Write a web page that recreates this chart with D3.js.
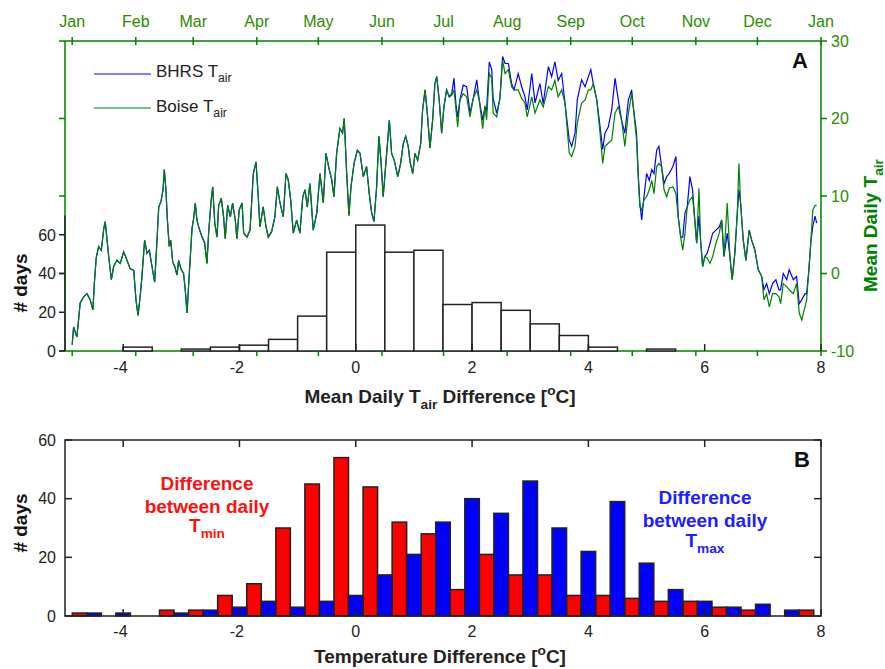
<!DOCTYPE html>
<html><head><meta charset="utf-8">
<script src="https://cdn.jsdelivr.net/npm/d3@7"></script>
<style>body{margin:0;background:#fff}svg{display:block}text{font-family:"Liberation Sans",Arial,sans-serif}</style>
</head><body><svg id="c" width="885" height="669"></svg>
<script>
// ---------- DATA ----------
const monthNames = ["Jan","Feb","Mar","Apr","May","Jun","Jul","Aug","Sep","Oct","Nov","Dec","Jan"];
const monthDay = [0,31,59,90,120,151,181,212,243,273,304,334,365];

// Panel A histogram (0.5 degC bins, left edges)
const histBinLeft = [-5,-4.5,-4,-3.5,-3,-2.5,-2,-1.5,-1,-0.5,0,0.5,1,1.5,2,2.5,3,3.5,4,4.5,5,5.5,6,6.5,7,7.5];
const histDays = [0,0,2,0,1,2,3,6,18,51,65,51,52,24,25,21,14,8,2,0,1,0,0,0,0,0];

// Panel B histogram (pair left edges; Tmin left half, Tmax right half)
const diffBinLeft = [-4.875,-4.375,-3.875,-3.375,-2.875,-2.375,-1.875,-1.375,-0.875,-0.375,0.125,0.625,1.125,1.625,2.125,2.625,3.125,3.625,4.125,4.625,5.125,5.625,6.125,6.625,7.125,7.625];
const tminDays = [1,0,0,2,2,7,11,30,45,54,44,32,28,9,21,14,14,7,7,6,5,5,3,2,0,2];
const tmaxDays = [1,1,0,1,2,3,5,3,5,7,14,21,32,40,35,46,30,22,39,18,9,5,3,4,2,0];

// Daily air temperature series (day of year)
const seriesDay = [0,0.7,2.3,3.9,5.6,7.2,8.8,10.1,10.8,11.7,12.9,14.2,15.4,16.1,17.0,17.8,19.1,20.2,21.8,23.4,
25.1,26.7,28.3,30.0,31.1,32.1,33.2,34.0,35.3,36.5,37.6,38.9,40.2,41.0,42.2,43.3,44.3,44.9,45.7,46.4,
47.3,48.0,49.0,50.0,51.1,51.9,53.0,54.3,55.1,56.0,56.8,57.6,58.4,59.2,60.0,60.8,61.9,63.3,64.6,65.7,
66.5,67.7,68.5,69.5,70.6,71.4,72.7,73.8,74.6,75.8,77.1,78.2,79.5,80.3,81.4,82.8,83.6,85.2,86.7,88.3,
89.6,90.7,91.5,93.1,94.5,95.6,97.2,98.8,100.0,101.3,102.9,104.2,105.3,106.5,107.8,109.4,111.0,112.4,113.5,114.6,
115.9,117.5,119.2,120.8,122.4,123.7,125.3,126.5,127.6,128.9,130.5,131.8,132.6,133.8,134.9,135.9,137.4,139.0,140.3,141.9,
143.5,144.8,146.0,147.1,148.4,149.5,150.5,151.6,152.5,153.3,154.6,155.7,157.0,158.7,160.1,161.4,162.6,163.8,164.7,166.0,
167.1,168.4,169.9,170.8,172.0,173.1,174.4,175.7,176.8,177.7,178.9,180.1,181.2,182.5,183.8,
185.0,186.1,187.1,187.9,189.0,190.6,192.3,193.9,195.5,197.2,198.4,200.1,201.2,202.0,203.3,204.5,205.2,206.9,208.5,209.8,
211.0,212.6,214.2,215.4,217.4,219.1,220.7,221.8,224.0,225.6,228.0,229.6,232.1,233.7,235.3,236.9,238.6,240.2,242.3,243.5,
245.1,246.2,248.3,250.0,251.6,252.8,254.0,255.7,257.3,258.6,259.7,261.3,263.0,264.6,266.2,267.8,269.4,271.1,272.7,273.5,
275.1,275.9,276.7,277.6,278.7,280.0,281.3,282.5,283.6,284.9,286.0,287.3,288.5,289.8,291.0,292.8,294.3,295.4,296.6,297.6,
298.7,299.8,301.1,302.4,303.6,304.4,305.5,306.3,307.3,308.4,309.5,310.9,312.2,313.8,315.4,316.6,317.7,319.3,320.6,321.7,
323.0,324.2,325.0,325.8,327.1,328.4,330.0,331.2,332.8,334.4,336.1,337.2,338.5,339.8,341.4,343.0,344.5,345.3,346.6,348.3,
349.5,351.5,353.1,354.4,355.6,357.2,358.0,359.1,360.0,361.0,362.1,362.9];

// Jan-Jun: both stations read the same
const janJunT = [-9.2,-6.9,-8.2,-3.8,-3.0,-2.6,-3.4,-4.7,-1.3,2.0,3.5,3.0,5.8,6.7,4.3,2.2,-0.8,0.9,1.7,1.3,
2.8,1.7,0.6,0.4,-3.4,-5.4,-2.8,-0.4,4.3,2.6,3.0,0.9,-1.1,2.6,8.6,9.3,10.8,13.4,10.8,6.9,
3.5,4.3,1.5,0.9,-0.2,1.7,0.6,0.0,-2.1,-5.1,-1.3,2.2,5.8,7.1,9.1,6.9,5.8,4.7,3.9,1.3,
5.2,9.3,11.2,6.5,4.7,8.8,9.7,7.3,4.5,8.8,7.3,9.1,6.9,4.5,8.2,9.1,5.2,4.7,5.6,12.9,
14.4,9.9,6.0,8.6,6.0,4.7,5.4,7.3,11.2,9.1,7.3,12.9,12.1,9.5,5.2,6.9,5.2,9.9,10.8,8.6,
11.6,5.6,7.8,12.9,9.1,15.5,13.4,12.1,9.9,15.5,18.7,18.1,20.0,12.9,7.5,11.2,14.2,15.9,15.5,12.5,
13.8,10.3,7.8,6.7,11.2,17.7,14.6,9.9,12.9,15.5,19.8,15.5,14.6,12.5,14.2,16.8,17.7,16.4,14.4,12.9,
15.5,14.6,16.8,21.1,23.7,20.7,16.2,19.8,24.5,25.4,22.4,18.1,21.5,23.7,22.8];

const bhrsLateT = [23.2,25.2,21.7,20.2,22.4,24.3,24.1,20.7,22.6,25.0,
22.4,19.8,21.5,21.1,27.3,26.3,22.6,20.7,22.6,28.0,
27.1,27.1,24.5,23.7,25.8,24.1,22.8,21.1,25.8,22.0,
24.5,21.9,26.7,25.4,27.3,24.9,25.8,22.0,17.2,16.4,
18.1,22.4,25.0,24.1,25.4,26.3,24.5,22.4,19.0,16.0,
18.1,18.9,21.1,25.2,22.4,19.8,18.1,22.4,23.7,21.5,
18.1,12.9,9.1,6.9,9.9,12.9,12.0,13.4,12.9,15.9,
16.4,13.8,11.6,12.5,12.9,13.8,15.1,7.3,4.7,4.7,
7.8,8.6,12.5,10.8,6.5,3.9,7.4,4.3,0.9,2.2,
2.6,3.9,5.2,5.6,6.0,6.9,2.2,5.2,2.2,-0.8,
2.6,7.8,10.8,9.1,4.3,1.7,5.6,4.3,3.0,0.5,
-0.4,-2.1,-1.3,-2.6,-1.3,-0.8,-2.1,-2.1,0.0,-0.8,
0.5,-0.8,-0.4,-3.9,-3.4,-2.6,-2.6,0.5,3.9,6.1,
7.4,6.5];

const boiseLateT = [23.0,23.7,21.1,18.9,22.4,23.2,22.8,20.2,22.6,23.7,
22.4,18.7,21.5,19.8,25.8,25.2,20.7,20.2,22.6,27.5,
25.8,26.3,24.1,23.7,23.7,22.6,22.0,20.2,22.8,20.7,
22.4,21.5,24.1,23.7,24.9,22.8,23.7,22.0,15.5,15.1,
16.4,19.4,22.0,22.4,23.7,23.7,24.5,22.4,18.1,14.2,
16.4,16.8,17.2,20.7,21.5,19.8,16.4,20.7,23.2,21.5,
17.2,12.5,8.6,8.2,9.5,9.9,10.8,12.0,10.3,13.8,
14.2,13.8,10.8,9.9,11.0,11.2,10.3,7.3,4.7,3.0,
5.2,8.6,9.5,9.9,6.5,3.9,11.0,4.3,0.9,2.2,
2.0,1.3,2.2,3.9,5.2,6.9,2.2,9.1,2.2,-0.8,
2.6,7.8,14.2,9.1,4.3,1.7,5.6,4.3,3.0,0.5,
-0.4,-3.4,-2.6,-4.3,-2.6,-2.6,-3.0,-3.9,-1.3,-1.7,
-2.1,-2.6,-1.3,-5.1,-6.0,-4.3,-3.4,0.5,3.9,8.2,
8.8,8.8];

const bhrsT = janJunT.concat(bhrsLateT);
const boiseT = janJunT.concat(boiseLateT);

const tempTicks = [-10,0,10,20,30];
const countTicksA = [0,20,40,60];
const countTicksB = [0,20,40,60];
const diffTicks = [-4,-2,0,2,4,6,8];

// ---------- DRAW ----------
const svg = d3.select("#c");
const GREEN = "#008000", GTXT = "#2a8c00";
const X0 = 65, X1 = 821;
const aTop = 41, aBot = 351;
const bTop = 440, bBot = 616;

const xA = d3.scaleLinear().domain([-5, 8]).range([X0, X1]);
const tA = d3.scaleLinear().domain([-3.5, 365]).range([X0, X1]);
const yT = d3.scaleLinear().domain([-10, 30]).range([aBot, aTop]);
const yC = d3.scaleLinear().domain([0, 160]).range([aBot, aTop]);
const yB = d3.scaleLinear().domain([0, 60]).range([bBot, bTop]);

function rich(g, x, y, parts, o) {
  const t = g.append("text").attr("x", x).attr("y", y)
    .attr("text-anchor", o.anchor || "middle").attr("font-size", o.size)
    .attr("font-weight", o.weight || "normal").attr("fill", o.fill || "#000");
  if (o.transform) t.attr("transform", o.transform);
  let shift = 0;
  parts.forEach(p => {
    const s = t.append("tspan").text(p.t);
    const target = p.sub ? o.size * 0.32 : p.sup ? -o.size * 0.42 : 0;
    s.attr("dy", target - shift);
    shift = target;
    if (p.sub || p.sup) s.attr("font-size", o.size * 0.72);
  });
  return t;
}
function numLabel(g, x, y, v, o) {
  const t = g.append("text").attr("x", x).attr("y", y).attr("font-size", 16)
    .attr("fill", o && o.fill || "#000").attr("text-anchor", o && o.anchor || "middle").text(v);
  if ((!o || !o.anchor) && v < 0) t.attr("dx", -2.7);
  if (o && o.dy) t.attr("dy", o.dy);
  return t;
}

// ===== Panel A =====
const gA = svg.append("g");
svg.append("clipPath").attr("id", "clipA").append("rect")
  .attr("x", X0).attr("y", aTop).attr("width", X1 - X0).attr("height", aBot - aTop);

const line = d3.line().x((d, i) => tA(seriesDay[i])).y(d => yT(d));
gA.append("path").datum(bhrsT).attr("d", line).attr("fill", "none")
  .attr("stroke", "#0000ff").attr("stroke-width", 1.2).attr("clip-path", "url(#clipA)");
gA.append("path").datum(boiseT).attr("d", line).attr("fill", "none")
  .attr("stroke", GREEN).attr("stroke-width", 1.2).attr("clip-path", "url(#clipA)");

// green frame lines
gA.append("line").attr("x1", X0).attr("x2", X1).attr("y1", aTop).attr("y2", aTop).attr("stroke", GREEN).attr("stroke-width", 1.5);
gA.append("line").attr("x1", X0).attr("x2", X1).attr("y1", aBot).attr("y2", aBot).attr("stroke", GREEN).attr("stroke-width", 1.5);
gA.append("line").attr("x1", X1).attr("x2", X1).attr("y1", aTop).attr("y2", aBot).attr("stroke", GREEN).attr("stroke-width", 1.5);
gA.append("line").attr("x1", X0).attr("x2", X0).attr("y1", aTop).attr("y2", aBot).attr("stroke", GREEN).attr("stroke-width", 1.5);

// histogram bars
gA.selectAll("rect.h").data(histDays.map((c, i) => ({ c, l: histBinLeft[i] })).filter(d => d.c > 0))
  .enter().append("rect")
  .attr("x", d => xA(d.l)).attr("width", d => xA(d.l + 0.5) - xA(d.l))
  .attr("y", d => yC(d.c)).attr("height", d => yC(0) - yC(d.c))
  .attr("fill", "#fff").attr("stroke", "#222").attr("stroke-width", 1.5);

// left axis: black count segment
gA.append("line").attr("x1", X0).attr("x2", X0).attr("y1", aBot).attr("y2", yC(70)).attr("stroke", "#222").attr("stroke-width", 1.5);
tempTicks.forEach(v => gA.append("line").attr("x1", X0 - 6).attr("x2", X0).attr("y1", yT(v)).attr("y2", yT(v)).attr("stroke", GREEN).attr("stroke-width", 1.5));
countTicksA.forEach(v => {
  gA.append("line").attr("x1", X0 - 6).attr("x2", X0).attr("y1", yC(v)).attr("y2", yC(v)).attr("stroke", "#222").attr("stroke-width", 1.5);
  numLabel(gA, 56, yC(v), v, { anchor: "end", dy: "0.36em", fill: "#222" });
});
tempTicks.forEach(v => {
  gA.append("line").attr("x1", X1).attr("x2", X1 + 6).attr("y1", yT(v)).attr("y2", yT(v)).attr("stroke", GREEN).attr("stroke-width", 1.5);
  numLabel(gA, 831, yT(v), v, { anchor: "start", dy: "0.36em", fill: GTXT });
});
monthDay.forEach((d, i) => {
  gA.append("line").attr("x1", tA(d)).attr("x2", tA(d)).attr("y1", aTop - 4).attr("y2", aTop + 4).attr("stroke", GREEN).attr("stroke-width", 1.5);
  gA.append("text").attr("x", tA(d)).attr("y", 27).attr("text-anchor", "middle").attr("font-size", 16).attr("fill", GTXT).text(monthNames[i]);
});
monthDay.forEach(d => gA.append("line").attr("x1", tA(d)).attr("x2", tA(d)).attr("y1", aBot).attr("y2", aBot + 5).attr("stroke", GREEN).attr("stroke-width", 1.5));
diffTicks.forEach(v => {
  gA.append("line").attr("x1", xA(v)).attr("x2", xA(v)).attr("y1", aBot).attr("y2", aBot - 7).attr("stroke", "#222").attr("stroke-width", 1.5);
  numLabel(gA, xA(v), 373, v, { fill: "#222" });
});

rich(gA, 440, 403, [{ t: "Mean Daily T" }, { t: "air", sub: true }, { t: " Difference [" }, { t: "o", sup: true }, { t: "C]" }], { size: 19, weight: "bold", fill: "#222" });
rich(gA, 0, 0, [{ t: "# days" }], { size: 19, weight: "bold", fill: "#111", transform: "translate(27,283) rotate(-90)" });
rich(gA, 0, 0, [{ t: "Mean Daily T" }, { t: "air", sub: true }], { size: 19, weight: "bold", fill: GREEN, anchor: "start", transform: "translate(877,292) rotate(-90)" });
gA.append("text").attr("x", 800).attr("y", 67.5).attr("text-anchor", "middle").attr("font-size", 22).attr("font-weight", "bold").attr("fill", "#111").text("A");

gA.append("line").attr("x1", 94).attr("x2", 151).attr("y1", 74).attr("y2", 74).attr("stroke", "#0000ff").attr("stroke-width", 1.2);
gA.append("line").attr("x1", 94).attr("x2", 151).attr("y1", 108).attr("y2", 108).attr("stroke", GREEN).attr("stroke-width", 1.2);
rich(gA, 156, 77, [{ t: "BHRS T" }, { t: "air", sub: true }], { size: 17, fill: "#222", anchor: "start" });
rich(gA, 156, 111.5, [{ t: "Boise T" }, { t: "air", sub: true }], { size: 17, fill: "#222", anchor: "start" });

// ===== Panel B =====
const gB = svg.append("g");
const pairs = diffBinLeft.map((l, i) => ({ l, mn: tminDays[i], mx: tmaxDays[i] }));
gB.selectAll("rect.mn").data(pairs.filter(d => d.mn > 0)).enter().append("rect")
  .attr("x", d => xA(d.l)).attr("width", d => xA(d.l + 0.25) - xA(d.l))
  .attr("y", d => yB(d.mn)).attr("height", d => yB(0) - yB(d.mn))
  .attr("fill", "#ff0000").attr("stroke", "#222").attr("stroke-width", 1.5);
gB.selectAll("rect.mx").data(pairs.filter(d => d.mx > 0)).enter().append("rect")
  .attr("x", d => xA(d.l + 0.25)).attr("width", d => xA(d.l + 0.5) - xA(d.l + 0.25))
  .attr("y", d => yB(d.mx)).attr("height", d => yB(0) - yB(d.mx))
  .attr("fill", "#0000ff").attr("stroke", "#222").attr("stroke-width", 1.5);

gB.append("rect").attr("x", X0).attr("y", bTop).attr("width", X1 - X0).attr("height", bBot - bTop)
  .attr("fill", "none").attr("stroke", "#222").attr("stroke-width", 1.5);
diffTicks.forEach(v => {
  gB.append("line").attr("x1", xA(v)).attr("x2", xA(v)).attr("y1", bBot).attr("y2", bBot - 7).attr("stroke", "#222").attr("stroke-width", 1.5);
  gB.append("line").attr("x1", xA(v)).attr("x2", xA(v)).attr("y1", bTop).attr("y2", bTop + 7).attr("stroke", "#222").attr("stroke-width", 1.5);
  numLabel(gB, xA(v), 637, v, { fill: "#222" });
});
countTicksB.forEach(v => {
  gB.append("line").attr("x1", X0).attr("x2", X0 + 7).attr("y1", yB(v)).attr("y2", yB(v)).attr("stroke", "#222").attr("stroke-width", 1.5);
  gB.append("line").attr("x1", X1).attr("x2", X1 - 7).attr("y1", yB(v)).attr("y2", yB(v)).attr("stroke", "#222").attr("stroke-width", 1.5);
  numLabel(gB, 56, yB(v), v, { anchor: "end", dy: "0.36em", fill: "#222" });
});
rich(gB, 440, 663, [{ t: "Temperature Difference [" }, { t: "o", sup: true }, { t: "C]" }], { size: 19, weight: "bold", fill: "#222" });
rich(gB, 0, 0, [{ t: "# days" }], { size: 19, weight: "bold", fill: "#111", transform: "translate(27,523) rotate(-90)" });
gB.append("text").attr("x", 802).attr("y", 466.5).attr("text-anchor", "middle").attr("font-size", 22).attr("font-weight", "bold").attr("fill", "#111").text("B");

const RED = "#ff1010", BLU = "#2020ff";
rich(gB, 207, 490, [{ t: "Difference" }], { size: 19, weight: "bold", fill: RED });
rich(gB, 207, 513, [{ t: "between daily" }], { size: 19, weight: "bold", fill: RED });
rich(gB, 207, 532, [{ t: "T" }, { t: "min", sub: true }], { size: 19, weight: "bold", fill: RED });
rich(gB, 705, 504, [{ t: "Difference" }], { size: 19, weight: "bold", fill: BLU });
rich(gB, 705, 527, [{ t: "between daily" }], { size: 19, weight: "bold", fill: BLU });
rich(gB, 705, 547, [{ t: "T" }, { t: "max", sub: true }], { size: 19, weight: "bold", fill: BLU });
</script></body></html>
